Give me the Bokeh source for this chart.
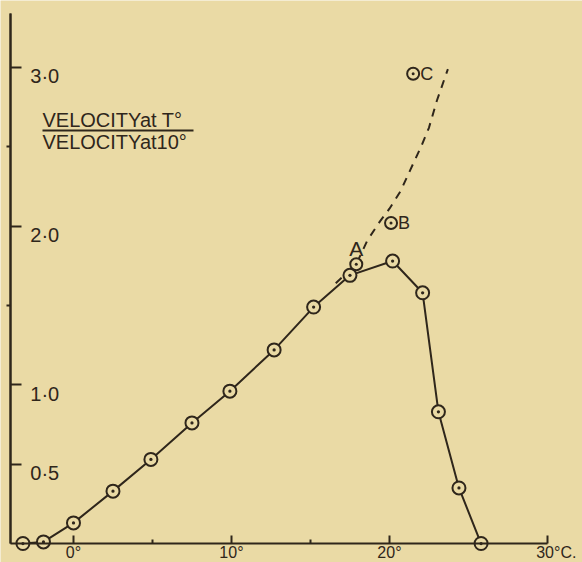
from bokeh.plotting import figure
from bokeh.models import LinearAxis, FixedTicker, Range1d, Label, BoxAnnotation
from bokeh.core.properties import value
from bokeh.embed import file_html
from bokeh.resources import INLINE

# ---- data ----
temp = [-3.2, -1.9, 0.0, 2.5, 4.9, 7.5, 9.9, 12.7, 15.2, 17.5, 20.2, 22.1, 23.1, 24.4, 25.8]
ratio = [0.0, 0.01, 0.13, 0.33, 0.53, 0.76, 0.96, 1.22, 1.49, 1.69, 1.78, 1.58, 0.83, 0.35, 0.0]

dash_temp = [16.6, 17.9, 18.6, 19.4, 20.0, 20.7, 21.3, 22.0, 22.5, 23.0, 23.7]
dash_ratio = [1.64, 1.76, 1.91, 2.03, 2.11, 2.22, 2.35, 2.50, 2.62, 2.79, 2.99]

extra_names = ["A", "B", "C"]
extra_temp = [17.9, 20.1, 21.5]
extra_ratio = [1.76, 2.02, 2.96]

x_ticks = [0, 10, 20, 30]
x_minor = [5, 15]
x_labels = ["0°", "10°", "20°", "\u00a0\u00a0\u00a0\u00a030°C."]
y_ticks = [0.5, 1.0, 2.0, 3.0]
y_minor = [1.5, 2.5]
y_labels = ["0·5", "1·0", "2·0", "3·0"]

BG = "#eadaa5"
INK = "#2f261b"
FONT = "Liberation Sans"

p = figure(width=582, height=562,
           x_range=Range1d(-4.62, 32.22), y_range=Range1d(-0.1197, 3.422),
           x_axis_location=None, y_axis_location=None,
           output_backend="svg", toolbar_location=None, min_border=0,
           background_fill_color=BG, border_fill_color=BG, outline_line_color=None)
p.grid.visible = False

xaxis = LinearAxis(fixed_location=0, bounds=(-4, 30),
                   ticker=FixedTicker(ticks=x_ticks, minor_ticks=x_minor),
                   major_label_overrides={t: l for t, l in zip(x_ticks, x_labels)},
                   axis_line_color=INK, axis_line_width=2,
                   major_tick_line_color=INK, major_tick_line_width=2,
                   major_tick_in=8, major_tick_out=0,
                   minor_tick_line_color=INK, minor_tick_line_width=2,
                   minor_tick_in=4, minor_tick_out=0,
                   major_label_standoff=0,
                   major_label_text_font=FONT, major_label_text_font_size="16px",
                   major_label_text_color=INK)
p.add_layout(xaxis, "below")

# vertical axis: labelled ticks point right, intermediate ticks point left
yaxis = LinearAxis(fixed_location=-4, bounds=(0, 3.34),
                   ticker=FixedTicker(ticks=[], minor_ticks=y_ticks),
                   axis_line_color=INK, axis_line_width=2,
                   major_tick_line_color=None,
                   minor_tick_line_color=INK, minor_tick_line_width=2,
                   minor_tick_in=0, minor_tick_out=11)
p.add_layout(yaxis, "right")
yaxis2 = LinearAxis(fixed_location=-4, bounds=(0, 3.34),
                    ticker=FixedTicker(ticks=[], minor_ticks=y_minor),
                    axis_line_color=INK, axis_line_width=2,
                    major_tick_line_color=None,
                    minor_tick_line_color=INK, minor_tick_line_width=2,
                    minor_tick_in=4, minor_tick_out=0)
p.add_layout(yaxis2, "right")

p.text(x=[-4] * len(y_ticks), y=y_ticks, text=y_labels, x_offset=20, y_offset=9,
       text_font=value(FONT), text_font_size="20px", text_color=INK,
       text_align="left", text_baseline="middle")

# dashed extrapolation and solid observed curve
p.line(dash_temp, dash_ratio, line_color=INK, line_width=2, line_dash="8 7")
p.line(temp, ratio, line_color=INK, line_width=2)
p.scatter(temp, ratio, marker="circle_dot", size=13, line_color=INK, line_width=2,
          fill_color=BG)
p.scatter(extra_temp, extra_ratio, marker="circle_dot", size=12, line_color=INK,
          line_width=2, fill_color=BG)

# point labels
p.text(x=extra_temp[:1], y=extra_ratio[:1], text=extra_names[:1], y_offset=-16,
       text_font=value(FONT), text_font_size="21px", text_color=INK,
       text_align="center", text_baseline="middle")
p.text(x=extra_temp[1:], y=extra_ratio[1:], text=extra_names[1:], x_offset=7,
       text_font=value(FONT), text_font_size="18px", text_color=INK,
       text_align="left", text_baseline="middle")

# ratio caption
p.add_layout(Label(x=42, y=443, x_units="screen", y_units="screen",
                   text="VELOCITYat T°", text_font=FONT, text_font_size="20px",
                   text_color=INK, text_baseline="middle"))
p.add_layout(BoxAnnotation(left=42, right=193, bottom=431, top=433,
                           left_units="screen", right_units="screen",
                           bottom_units="screen", top_units="screen",
                           fill_color=INK, fill_alpha=1, line_color=None))
p.add_layout(Label(x=42, y=421, x_units="screen", y_units="screen",
                   text="VELOCITYat10°", text_font=FONT, text_font_size="20px",
                   text_color=INK, text_baseline="middle"))

open("out.html", "w").write(file_html(p, INLINE))
